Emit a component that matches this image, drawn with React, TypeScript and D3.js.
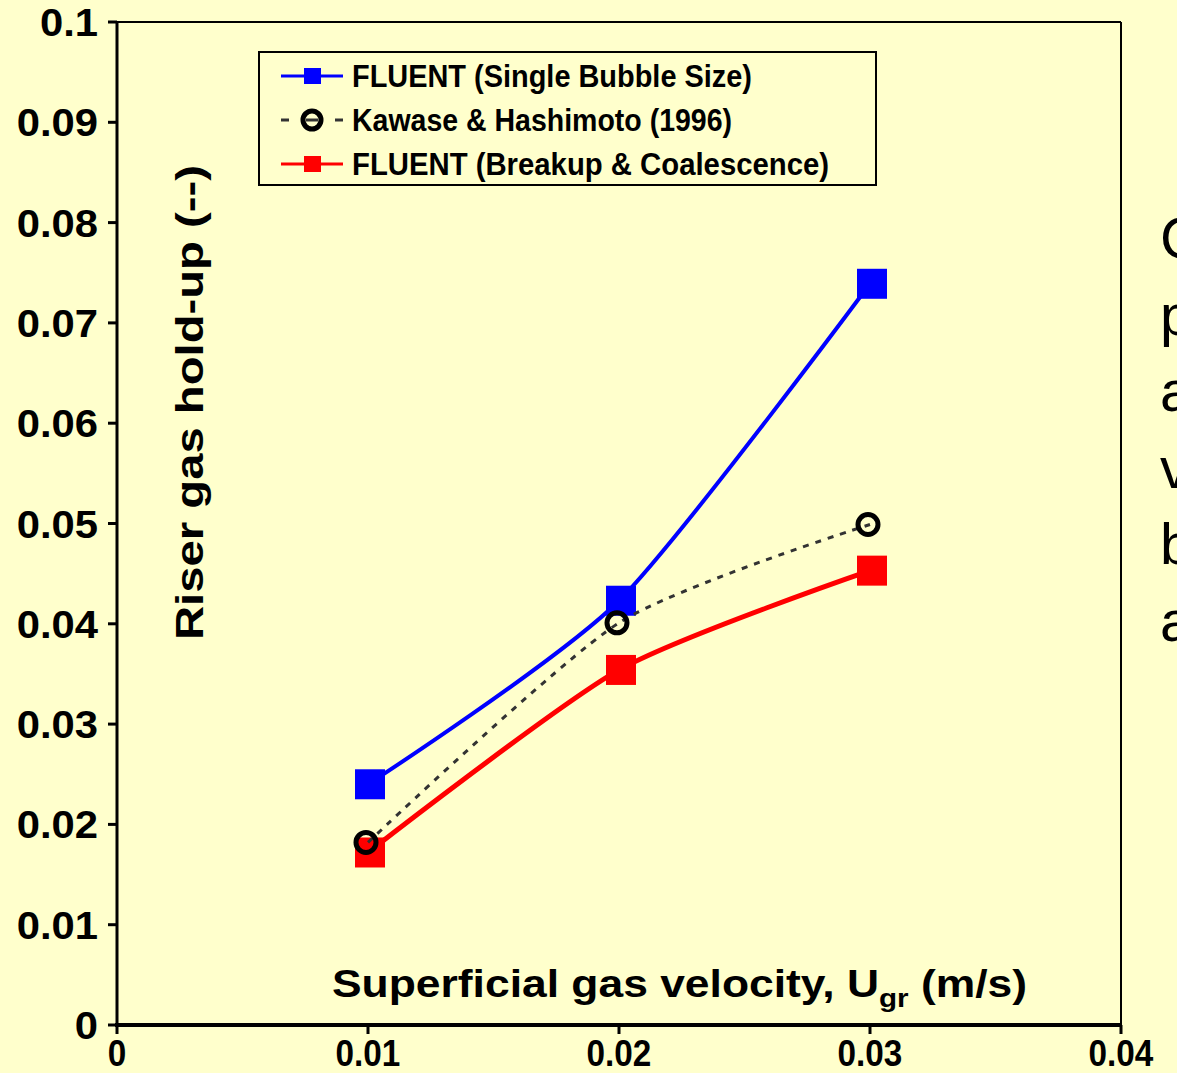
import React from "react";
import * as d3 from "d3";

// values
const velocity = [0.01, 0.02, 0.03];
const fluentSingle = [0.024, 0.0423, 0.0739];
const kawaseHashimoto = [0.0182, 0.0401, 0.0499];
const fluentBreakup = [0.0172, 0.0354, 0.0453];

const xTickValues = [0, 0.01, 0.02, 0.03, 0.04];
const xTickLabels = ["0", "0.01", "0.02", "0.03", "0.04"];
const yTickValues = [0, 0.01, 0.02, 0.03, 0.04, 0.05, 0.06, 0.07, 0.08, 0.09, 0.1];
const yTickLabels = ["0", "0.01", "0.02", "0.03", "0.04", "0.05", "0.06", "0.07", "0.08", "0.09", "0.1"];

const legendLabels = [
  "FLUENT (Single Bubble Size)",
  "Kawase & Hashimoto (1996)",
  "FLUENT (Breakup & Coalescence)",
];
const sideLetters = ["C", "p", "a", "v", "b", "a"];

const W = 1177;
const H = 1073;
const BG = "#FFFFCC";
const FONT = "'Liberation Sans', Arial, sans-serif";

export default function App() {
  const margin = { top: 22, left: 117, right: W - 1121, bottom: H - 1025 };

  const x = d3.scaleLinear().domain([0, 0.04]).range([margin.left, W - margin.right]);
  const y = d3.scaleLinear().domain([0, 0.1]).range([H - margin.bottom, margin.top]);

  const line = d3
    .line<[number, number]>()
    .x(d => x(d[0]))
    .y(d => y(d[1]))
    .curve(d3.curveCardinal.tension(0.3));

  const pts = (vals: number[]) => velocity.map((v, i) => [v, vals[i]] as [number, number]);

  const sq = 30;

  return (
    <svg
      width={W}
      height={H}
      style={{ position: "absolute", left: 0, top: 0, background: BG }}
      fontFamily={FONT}
    >
      <rect x={0} y={0} width={W} height={H} fill={BG} />

      {/* plot frame */}
      <line x1={x(0)} x2={x(0.04)} y1={y(0.1)} y2={y(0.1)} stroke="#000" strokeWidth={2} />
      <line x1={x(0.04)} x2={x(0.04)} y1={y(0.1)} y2={y(0)} stroke="#000" strokeWidth={2} />
      <line x1={x(0)} x2={x(0)} y1={y(0.1)} y2={y(0)} stroke="#000" strokeWidth={3} />
      <line x1={x(0) - 2} x2={x(0.04) + 1} y1={y(0)} y2={y(0)} stroke="#000" strokeWidth={4} />

      {/* y ticks */}
      {yTickValues.map((v, i) => (
        <g key={"y" + i}>
          <line x1={x(0) - 9} x2={x(0)} y1={y(v)} y2={y(v)} stroke="#000" strokeWidth={3} />
          <text
            transform={`translate(98, ${y(v) + 14}) scale(1.1, 1)`}
            textAnchor="end"
            fontSize={38}
            fontWeight="bold"
          >
            {yTickLabels[i]}
          </text>
        </g>
      ))}

      {/* x ticks */}
      {xTickValues.map((v, i) => (
        <g key={"x" + i}>
          <line x1={x(v)} x2={x(v)} y1={y(0)} y2={y(0) + 9} stroke="#000" strokeWidth={3} />
          <text
            transform={`translate(${x(v)}, 1066) scale(0.9, 1)`}
            textAnchor="middle"
            fontSize={37}
            fontWeight="bold"
          >
            {xTickLabels[i]}
          </text>
        </g>
      ))}

      {/* axis titles */}
      <text
        transform="translate(203, 640) rotate(-90)"
        fontSize={38}
        fontWeight="bold"
        textLength={475}
        lengthAdjust="spacingAndGlyphs"
      >
        Riser gas hold-up (--)
      </text>
      <text x={332} y={997} fontSize={39} fontWeight="bold" textLength={695} lengthAdjust="spacingAndGlyphs">
        Superficial gas velocity, U
        <tspan fontSize={26} dy={10}>gr</tspan>
        <tspan dy={-10}> (m/s)</tspan>
      </text>

      {/* series: FLUENT single bubble size */}
      <path d={line(pts(fluentSingle)) || ""} fill="none" stroke="#0000FF" strokeWidth={4} />
      {pts(fluentSingle).map((p, i) => (
        <rect key={"b" + i} x={x(p[0]) - sq / 2 + 2} y={y(p[1]) - sq / 2} width={sq} height={sq} fill="#0000FF" />
      ))}

      {/* series: FLUENT breakup & coalescence */}
      <path d={line(pts(fluentBreakup)) || ""} fill="none" stroke="#FF0000" strokeWidth={5} />
      {pts(fluentBreakup).map((p, i) => (
        <rect key={"r" + i} x={x(p[0]) - sq / 2 + 2} y={y(p[1]) - sq / 2} width={sq} height={sq} fill="#FF0000" />
      ))}

      {/* series: Kawase & Hashimoto */}
      <path
        d={line(pts(kawaseHashimoto)) || ""}
        fill="none"
        stroke="#333333"
        strokeWidth={3}
        strokeDasharray="6 7"
      />
      {pts(kawaseHashimoto).map((p, i) => (
        <circle key={"k" + i} cx={x(p[0]) - 2} cy={y(p[1])} r={10} fill="none" stroke="#000" strokeWidth={5} />
      ))}

      {/* legend */}
      <g>
        <rect x={259} y={52} width={617} height={133} fill={BG} stroke="#000" strokeWidth={2} />
        {legendLabels.map((lab, i) => {
          const cy = 76 + i * 44;
          const widths = [400, 380, 477];
          return (
            <g key={"l" + i}>
              {i === 1 ? (
                <>
                  <line x1={281} x2={289} y1={cy} y2={cy} stroke="#333333" strokeWidth={3} />
                  <line x1={335} x2={343} y1={cy} y2={cy} stroke="#333333" strokeWidth={3} />
                  <line x1={306} x2={318} y1={cy} y2={cy} stroke="#333333" strokeWidth={3} />
                  <circle cx={312} cy={cy} r={9} fill="none" stroke="#000" strokeWidth={5} />
                </>
              ) : (
                <>
                  <line
                    x1={281}
                    x2={343}
                    y1={cy}
                    y2={cy}
                    stroke={i === 0 ? "#0000FF" : "#FF0000"}
                    strokeWidth={3}
                  />
                  <rect x={304} y={cy - 8} width={17} height={16} fill={i === 0 ? "#0000FF" : "#FF0000"} />
                </>
              )}
              <text
                x={352}
                y={cy + 11}
                fontSize={31}
                fontWeight="bold"
                textLength={widths[i]}
                lengthAdjust="spacingAndGlyphs"
              >
                {lab}
              </text>
            </g>
          );
        })}
      </g>

      {/* clipped slide text at right edge */}
      {sideLetters.map((c, i) => (
        <text key={"s" + i} x={1160} y={258 + i * 76.6} fontSize={58} fill="#000">
          {c}
        </text>
      ))}
    </svg>
  );
}
